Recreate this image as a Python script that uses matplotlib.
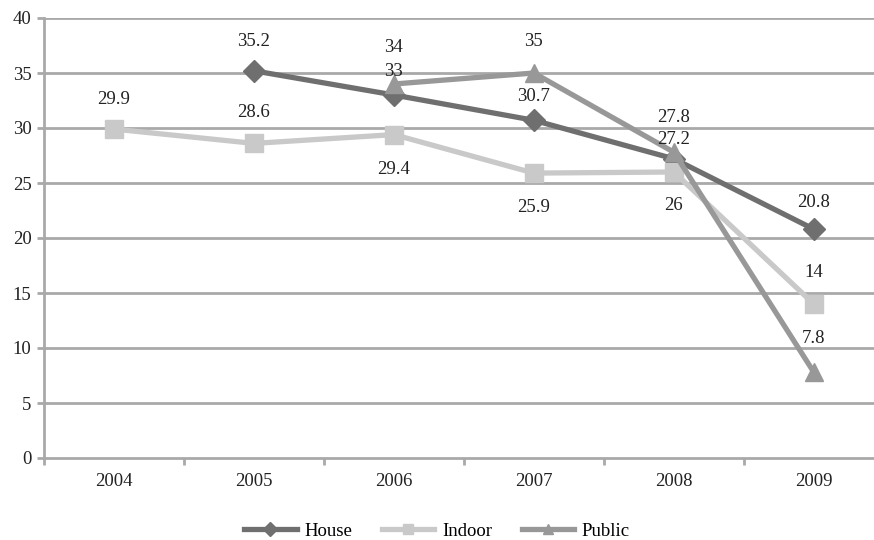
import matplotlib.pyplot as plt
from matplotlib.lines import Line2D

plt.rcParams['font.family'] = ['Liberation Serif', 'DejaVu Serif']

years = ['2004', '2005', '2006', '2007', '2008', '2009']

# None marks a year with no value for that series
house = [None, 35.2, 33, 30.7, 27.2, 20.8]
indoor = [29.9, 28.6, 29.4, 25.9, 26, 14]
public = [None, None, 34, 35, 27.8, 7.8]

# vertical label offsets in points (negative = below the point)
house_off = [0, 21, 17, 17, 14, 19]
indoor_off = [21, 22, -25, -25, -24, 23]
public_off = [0, 0, 26, 23, 25, 24]

series = [
    ('House', house, house_off, '#6f6f6f', 'D', 11),
    ('Indoor', indoor, indoor_off, '#c9c9c9', 's', 13),
    ('Public', public, public_off, '#989898', '^', 13),
]

fig = plt.figure(figsize=(8.74, 5.40), dpi=100)
ax = fig.add_axes([44 / 874, 82 / 540, 1 - 44 / 874, 440 / 540])

grid_col = '#a9a9a9'
for v in range(5, 45, 5):
    ax.axhline(v, color=grid_col, lw=2, zorder=0)

for name, vals, offs, col, mk, ms in series:
    xs = [i for i, v in enumerate(vals) if v is not None]
    ys = [v for v in vals if v is not None]
    ax.plot(xs, ys, color=col, lw=3.8, marker=mk, markersize=ms,
            markeredgecolor=col, label=name, zorder=3)
    for x, y in zip(xs, ys):
        ax.annotate(f'{y:g}', (x, y), xytext=(0, offs[x]), textcoords='offset points',
                    ha='center', va='center', fontsize=13.5, color='#222222', zorder=5)

ax.set_xlim(-0.5, 5.43)
ax.set_ylim(0, 40)
ax.set_yticks(range(0, 45, 5))
ax.set_xticks(range(len(years)))
ax.set_xticklabels(years)
ax.set_xticks([i - 0.5 for i in range(len(years))], minor=True)
ax.tick_params(axis='x', which='major', length=0, pad=11, labelsize=13.5, labelcolor='#222222')
ax.tick_params(axis='x', which='minor', length=5, width=2, color=grid_col)
ax.tick_params(axis='y', length=5, width=2, color=grid_col, pad=4, labelsize=13.5, labelcolor='#222222')

for s in ['top', 'right']:
    ax.spines[s].set_visible(False)
for s in ['left', 'bottom']:
    ax.spines[s].set_color(grid_col)
    ax.spines[s].set_linewidth(2)

handles = [Line2D([], [], color=col, lw=3.8, marker=mk, markersize=7, markeredgecolor=col)
           for _, _, _, col, mk, _ in series]
fig.legend(handles, [s[0] for s in series], loc='center', bbox_to_anchor=(0.5, 0.016),
           ncol=3, frameon=False, fontsize=13.5, handlelength=2.8, handletextpad=0.4,
           columnspacing=1.6)

fig.savefig('out.png', dpi=100)
